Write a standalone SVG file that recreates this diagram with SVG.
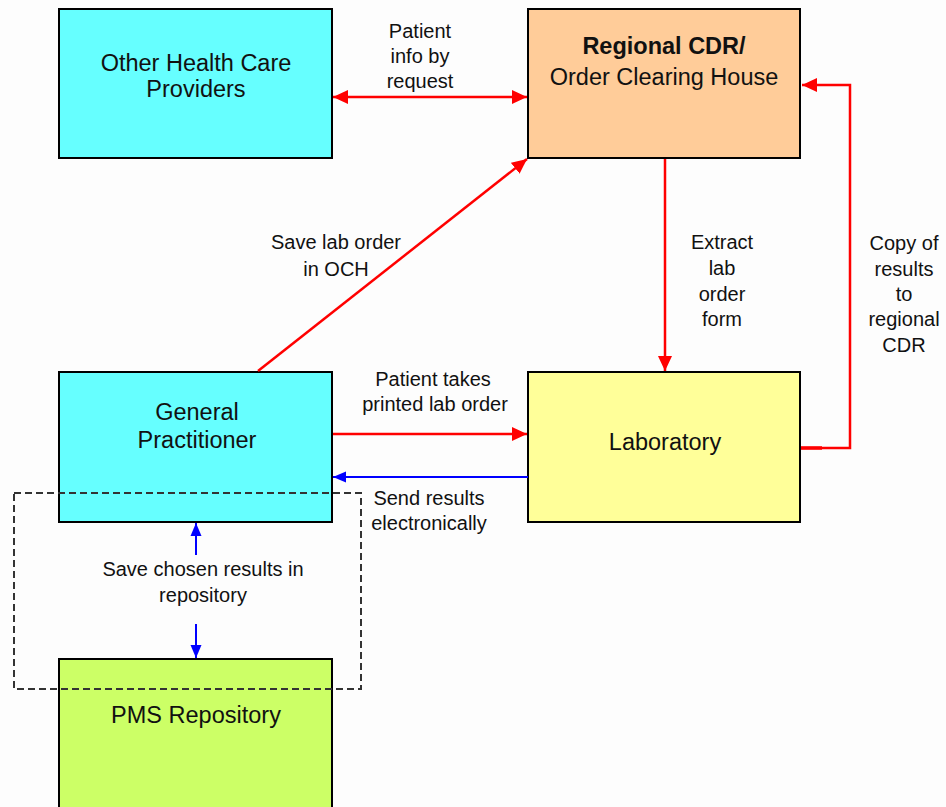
<svg xmlns="http://www.w3.org/2000/svg" width="946" height="807" viewBox="0 0 946 807">
<style>
.node{stroke:#000;stroke-width:2}
.nt{font-family:"Liberation Sans",Arial,sans-serif;font-size:23.5px;fill:#111;text-anchor:middle}
.lb{font-family:"Liberation Sans",Arial,sans-serif;font-size:20px;fill:#111;text-anchor:middle}
.red{stroke:#FF0000;stroke-width:2.5;fill:none}
.blue{stroke:#0000FF;stroke-width:2;fill:none}
</style>
<defs>
<marker id="ra" markerUnits="userSpaceOnUse" markerWidth="16" markerHeight="16" viewBox="0 0 16 16" refX="15" refY="8" orient="auto-start-reverse">
<path d="M0,1 L15,8 L0,15 Z" fill="#FF0000"/>
</marker>
<marker id="ba" markerUnits="userSpaceOnUse" markerWidth="14" markerHeight="14" viewBox="0 0 14 14" refX="13" refY="7" orient="auto-start-reverse">
<path d="M0,1.5 L13,7 L0,12.5 Z" fill="#0000FF"/>
</marker>
</defs>
<rect x="0" y="0" width="946" height="807" fill="#FDFDFD"/>

<g id="other-hcp">
<rect class="node" x="59" y="9" width="273" height="149" fill="#66FFFF"/>
<text class="nt" x="196" y="71">Other Health Care</text>
<text class="nt" x="196" y="97">Providers</text>
</g>
<g id="regional-cdr">
<rect class="node" x="528" y="9" width="272" height="149" fill="#FFCC99"/>
<text class="nt" x="664" y="54" font-weight="bold">Regional CDR/</text>
<text class="nt" x="664" y="85">Order Clearing House</text>
</g>
<g id="general-practitioner">
<rect class="node" x="59" y="372" width="273" height="150" fill="#66FFFF"/>
<text class="nt" x="197" y="420">General</text>
<text class="nt" x="197" y="448">Practitioner</text>
</g>
<g id="laboratory">
<rect class="node" x="528" y="372" width="272" height="150" fill="#FFFF99"/>
<text class="nt" x="665" y="450">Laboratory</text>
</g>
<g id="pms-repository">
<rect class="node" x="59" y="659" width="273" height="155" fill="#CCFF66"/>
<text class="nt" x="196" y="723">PMS Repository</text>
</g>

<g id="connectors">
<line class="red" x1="333" y1="97" x2="527" y2="97" marker-start="url(#ra)" marker-end="url(#ra)"/>
<line class="red" x1="258" y1="371" x2="527" y2="159" marker-end="url(#ra)"/>
<line class="red" x1="665" y1="159" x2="665" y2="371" marker-end="url(#ra)"/>
<polyline class="red" points="801,448 850,448 850,85 802,85" marker-end="url(#ra)"/>
<line x1="801" y1="448" x2="822" y2="448" stroke="#FF0000" stroke-width="3.5"/>
<line class="red" x1="333" y1="434" x2="527" y2="434" marker-end="url(#ra)"/>
<line class="blue" x1="528" y1="477" x2="333" y2="477" marker-end="url(#ba)"/>
<line class="blue" x1="196" y1="555" x2="196" y2="523" marker-end="url(#ba)"/>
<line class="blue" x1="196" y1="624" x2="196" y2="658" marker-end="url(#ba)"/>
<rect x="14" y="493" width="347" height="196" fill="none" stroke="#333" stroke-width="2" stroke-dasharray="7,4"/>
</g>

<g id="labels">
<text class="lb" x="420" y="38">Patient</text>
<text class="lb" x="420" y="63">info by</text>
<text class="lb" x="420" y="88">request</text>
<text class="lb" x="336" y="249">Save lab order</text>
<text class="lb" x="336" y="276">in OCH</text>
<text class="lb" x="722" y="249">Extract</text>
<text class="lb" x="722" y="275">lab</text>
<text class="lb" x="722" y="301">order</text>
<text class="lb" x="722" y="326">form</text>
<text class="lb" x="904" y="250">Copy of</text>
<text class="lb" x="904" y="276">results</text>
<text class="lb" x="904" y="301">to</text>
<text class="lb" x="904" y="326">regional</text>
<text class="lb" x="904" y="352">CDR</text>
<text class="lb" x="433" y="386">Patient takes</text>
<text class="lb" x="435" y="411">printed lab order</text>
<text class="lb" x="429" y="505">Send results</text>
<text class="lb" x="429" y="530">electronically</text>
<text class="lb" x="203" y="576">Save chosen results in</text>
<text class="lb" x="203" y="602">repository</text>
</g>
</svg>
